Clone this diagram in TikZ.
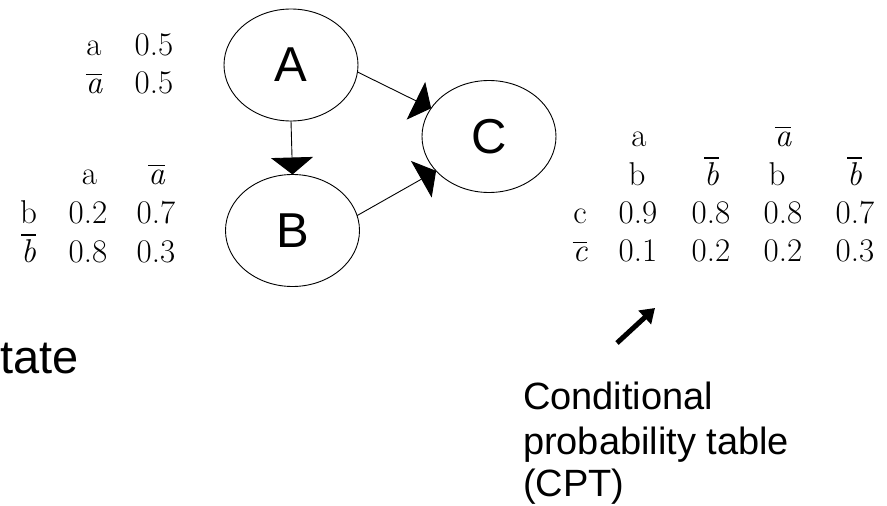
\documentclass[tikz,border=0pt]{standalone}
\usepackage{fontspec}
\newfontfamily\labelsans{Liberation Sans}
\usetikzlibrary{arrows.meta,shapes.geometric}
% italic letter with a bar over it (complement of an event)
\newcommand{\barred}[1]{\vbox{\hrule height 0.045em \kern 0.1em \hbox{\itshape #1}}}

\begin{document}
\begin{tikzpicture}[x=1pt,y=-1pt,
  every node/.style={inner sep=0pt, outer sep=0pt},
  var/.style={ellipse, draw, line width=0.9pt, minimum width=134pt, minimum height=112pt,
    font=\labelsans\fontsize{49}{54}\selectfont},
  cell/.style={anchor=base, font=\fontsize{33}{38}\selectfont},
  link/.style={line width=0.9pt, -{Triangle[length=17pt,width=42pt]}},
  note/.style={anchor=base west, font=\labelsans\fontsize{38}{44}\selectfont},
  pointer/.style={line width=5pt, -{Triangle[length=14pt,width=18pt]}},
]
\useasboundingbox[fill=white] (0,0) rectangle (887,506);

% Bayesian network
\node[var] (A) at (291,65) {A};
\node[var] (B) at (292.5,230.5) {B};
\node[var] (C) at (489,136.5) {C};
\draw[link] (A.south) -- (B.north);
\draw[link] (A.-6) -- (C.154);
\draw[link] (B.13) -- (C.213);

% P(A)
\node[cell] (pa1) at (94,55) {a};
\node[cell] (pa1v) at (154,55) {0.5};
\node[cell] (pa2) at (94,93) {\barred{a}};
\node[cell] (pa2v) at (154,93) {0.5};

% P(B | A)
\node[cell] (pbh1) at (89.5,184) {a};
\node[cell] (pbh2) at (156.5,184) {\barred{a}};
\node[cell] (pb1) at (28.5,223) {b};
\node[cell] (pb11) at (88,223) {0.2};
\node[cell] (pb12) at (156,223) {0.7};
\node[cell] (pb2) at (28.5,262) {\barred{b}};
\node[cell] (pb21) at (88,262) {0.8};
\node[cell] (pb22) at (156,262) {0.3};

% P(C | A, B)
\node[cell] (pch1) at (639,146) {a};
\node[cell] (pch2) at (783,146) {\barred{a}};
\node[cell] (pcb1) at (637,185) {b};
\node[cell] (pcb2) at (711.5,185) {\barred{b}};
\node[cell] (pcb3) at (777,185) {b};
\node[cell] (pcb4) at (854.5,185) {\barred{b}};
\node[cell] (pc1) at (580,223) {c};
\node[cell] (pc11) at (638,223) {0.9};
\node[cell] (pc12) at (711,223) {0.8};
\node[cell] (pc13) at (783,223) {0.8};
\node[cell] (pc14) at (855,223) {0.7};
\node[cell] (pc2) at (580,261) {\barred{c}};
\node[cell] (pc21) at (638,261) {0.1};
\node[cell] (pc22) at (711,261) {0.2};
\node[cell] (pc23) at (783,261) {0.2};
\node[cell] (pc24) at (855,261) {0.3};

% captions
\node[anchor=base west, font=\labelsans\fontsize{47}{54}\selectfont] (st) at (0,373) {tate};
\coordinate (ptail) at (617,343);
\coordinate (phead) at (655,308);
\draw[pointer] (ptail) -- (phead);
\node[note] (cpt1) at (523,409) {Conditional};
\node[note] (cpt2) at (523,454) {probability table};
\node[note] (cpt3) at (523,496) {(CPT)};
\end{tikzpicture}
\end{document}
